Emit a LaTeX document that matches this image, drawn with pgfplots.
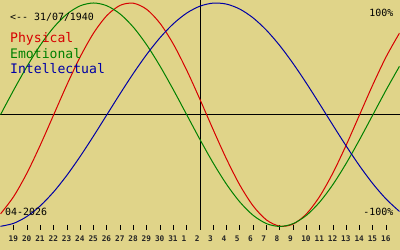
\documentclass[border=0pt]{standalone}
\usepackage{pgfplots}
\pgfplotsset{compat=1.18}
\usepackage{pgfplotstable}
\usepackage{fontspec}
\newfontfamily\mono{DejaVu Sans Mono}
\definecolor{bg}{RGB}{224,212,137}
\definecolor{cphys}{RGB}{215,0,0}
\definecolor{cemo}{RGB}{0,128,0}
\definecolor{cint}{RGB}{0,0,165}
\pgfplotstableread{
d phys emo intel
0 -0.8879 0.0000 -0.9989
1 -0.7308 0.2225 -0.9718
2 -0.5196 0.4339 -0.9096
3 -0.2698 0.6235 -0.8146
4 0.0000 0.7818 -0.6901
5 0.2698 0.9010 -0.5406
6 0.5196 0.9749 -0.3717
7 0.7308 1.0000 -0.1893
8 0.8879 0.9749 0.0000
9 0.9791 0.9010 0.1893
10 0.9977 0.7818 0.3717
11 0.9423 0.6235 0.5406
12 0.8170 0.4339 0.6901
13 0.6311 0.2225 0.8146
14 0.3984 0.0000 0.9096
15 0.1362 -0.2225 0.9718
16 -0.1362 -0.4339 0.9989
17 -0.3984 -0.6235 0.9898
18 -0.6311 -0.7818 0.9450
19 -0.8170 -0.9010 0.8660
20 -0.9423 -0.9749 0.7557
21 -0.9977 -1.0000 0.6182
22 -0.9791 -0.9749 0.4582
23 -0.8879 -0.9010 0.2817
24 -0.7308 -0.7818 0.0951
25 -0.5196 -0.6235 -0.0951
26 -0.2698 -0.4339 -0.2817
27 0.0000 -0.2225 -0.4582
28 0.2698 0.0000 -0.6182
29 0.5196 0.2225 -0.7557
30 0.7308 0.4339 -0.8660
}\bio
\begin{document}
\begin{tikzpicture}[x=1bp,y=1bp]
\fill[bg] (0,0) rectangle (400,250);
% center lines
\draw[black, line width=1bp] (0,135.5) -- (400,135.5);
\draw[black, line width=1bp] (200,250) -- (200,19.5);
% ticks and labels
\foreach \d/\l in {1/19,2/20,3/21,4/22,5/23,6/24,7/25,8/26,9/27,10/28,11/29,12/30,13/31,14/1,15/2,16/3,17/4,18/5,19/6,20/7,21/8,22/9,23/10,24/11,25/12,26/13,27/14,28/15,29/16}{
  \draw[black, line width=1bp] ({13.3333*\d},24.5) -- ({13.3333*\d},19.5);
  \node[anchor=base west, inner sep=0pt, font=\mono\bfseries\fontsize{7.8}{9}\selectfont, text=black!85] at ({13.3333*\d-5.3},8.5) {\l};
}
\begin{axis}[at={(0,0)}, anchor=south west, scale only axis,
  width=400bp, height=250bp,
  xmin=0, xmax=30, ymin=-1.2098, ymax=1.0223,
  hide axis, clip=true]
\addplot[cphys, line width=1bp, smooth] table[x=d, y=phys] {\bio};
\addplot[cemo, line width=1bp, smooth] table[x=d, y=emo] {\bio};
\addplot[cint, line width=1bp, smooth] table[x=d, y=intel] {\bio};
\end{axis}
\node[anchor=base west, inner sep=0pt, font=\mono\fontsize{10}{12}\selectfont] at (9.5,230) {<-{}- 31/07/1940};
\node[anchor=base west, inner sep=0pt, font=\mono\fontsize{13.2}{15}\selectfont, text=cphys] at (9.5,207.5) {Physical};
\node[anchor=base west, inner sep=0pt, font=\mono\fontsize{13.2}{15}\selectfont, text=cemo] at (9.5,192.2) {Emotional};
\node[anchor=base west, inner sep=0pt, font=\mono\fontsize{13.2}{15}\selectfont, text=cint] at (9.5,176.8) {Intellectual};
\node[anchor=base east, inner sep=0pt, font=\mono\fontsize{10}{12}\selectfont] at (394,234) {100\%};
\node[anchor=base east, inner sep=0pt, font=\mono\fontsize{10}{12}\selectfont] at (394,34) {-100\%};
\node[anchor=base west, inner sep=0pt, font=\mono\fontsize{10}{12}\selectfont] at (4.5,34) {04-2026};
\end{tikzpicture}
\end{document}
